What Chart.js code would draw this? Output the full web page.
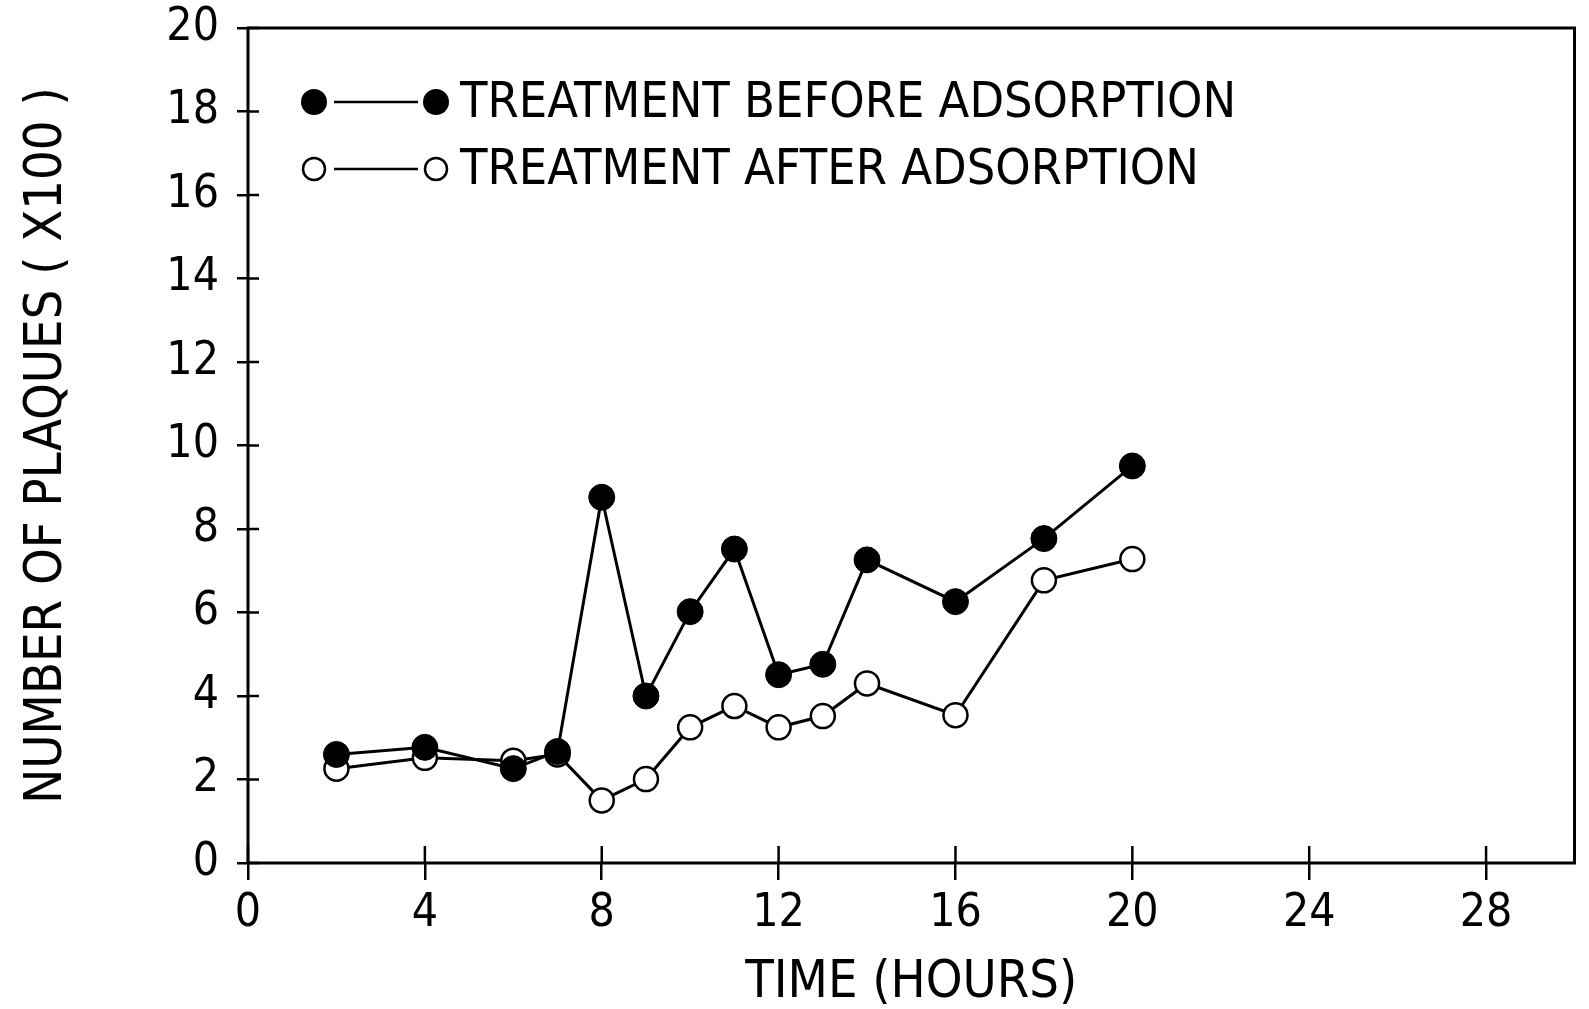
<!DOCTYPE html>
<html>
<head>
<meta charset="utf-8">
<script src="https://cdn.jsdelivr.net/npm/chart.js@4"></script>
<style>
  html, body { margin: 0; padding: 0; background: #fff; }
  #wrap { width: 1589px; height: 1009px; }
</style>
</head>
<body>
<div id="wrap"><canvas id="plaqueChart" width="1589" height="1009"></canvas></div>
<script>
// ---- data ----
const hoursBefore = [2, 4, 6, 7, 8, 9, 10, 11, 12, 13, 14, 16, 18, 20];
const plaquesBefore = [2.6, 2.77, 2.26, 2.67, 8.76, 4.0, 6.02, 7.52, 4.51, 4.76, 7.26, 6.26, 7.77, 9.51];

const hoursAfter = [2, 4, 6, 7, 8, 9, 10, 11, 12, 13, 14, 16, 18, 20];
const plaquesAfter = [2.26, 2.52, 2.45, 2.6, 1.5, 2.01, 3.25, 3.76, 3.25, 3.52, 4.3, 3.54, 6.77, 7.28];

const xTicks = [0, 4, 8, 12, 16, 20, 24, 28];
const yTicks = [0, 2, 4, 6, 8, 10, 12, 14, 16, 18, 20];

const labelBefore = "TREATMENT BEFORE ADSORPTION";
const labelAfter = "TREATMENT AFTER ADSORPTION";

const narrow = "'DejaVu Sans Condensed', 'DejaVu Sans', sans-serif";

function toPoints(xs, ys) {
    return xs.map((x, i) => ({ x: x, y: ys[i] }));
}

// frame + inner half of the tick marks + legend
const framePlugin = {
    id: "frame",
    afterDraw(chart) {
        const ctx = chart.ctx;
        const a = chart.chartArea;
        const xs = chart.scales.x;
        const ys = chart.scales.y;

        ctx.save();
        ctx.strokeStyle = "#000";
        ctx.lineWidth = 3;
        ctx.strokeRect(a.left, a.top, a.right - a.left, a.bottom - a.top);

        ctx.lineWidth = 2.5;
        xs.ticks.forEach(t => {
            let px = xs.getPixelForValue(t.value);
            ctx.beginPath();
            ctx.moveTo(px, a.bottom);
            ctx.lineTo(px, a.bottom - 17);
            ctx.stroke();
        });
        ys.ticks.forEach(t => {
            let py = ys.getPixelForValue(t.value);
            ctx.beginPath();
            ctx.moveTo(a.left, py);
            ctx.lineTo(a.left + 11, py);
            ctx.stroke();
        });

        // legend
        const rows = [
            { y: a.top + 74, filled: true, r: 13, text: chart.data.datasets[0].label },
            { y: a.top + 141, filled: false, r: 11, text: chart.data.datasets[1].label }
        ];
        const x1 = a.left + 66, x2 = a.left + 188, tx = a.left + 212;
        ctx.font = "50px " + narrow;
        ctx.textBaseline = "middle";
        rows.forEach(r => {
            ctx.lineWidth = 2.5;
            ctx.beginPath();
            ctx.moveTo(x1 + 20, r.y);
            ctx.lineTo(x2 - 18, r.y);
            ctx.stroke();
            [x1, x2].forEach(cx => {
                ctx.beginPath();
                ctx.arc(cx, r.y, r.r, 0, Math.PI * 2);
                if (r.filled) {
                    ctx.fillStyle = "#000";
                    ctx.fill();
                } else {
                    ctx.fillStyle = "#fff";
                    ctx.fill();
                    ctx.stroke();
                }
            });
            ctx.fillStyle = "#000";
            ctx.fillText(r.text, tx, r.y + 2);
        });
        ctx.restore();
    }
};

const ctx = document.getElementById("plaqueChart").getContext("2d");

new Chart(ctx, {
    type: "line",
    data: {
        datasets: [
            {
                label: labelBefore,
                data: toPoints(hoursBefore, plaquesBefore),
                borderColor: "#000",
                borderWidth: 3,
                pointRadius: 13,
                pointBackgroundColor: "#000",
                pointBorderColor: "#000",
                pointBorderWidth: 1,
                tension: 0
            },
            {
                label: labelAfter,
                data: toPoints(hoursAfter, plaquesAfter),
                borderColor: "#000",
                borderWidth: 3,
                pointRadius: 12,
                pointBackgroundColor: "#fff",
                pointBorderColor: "#000",
                pointBorderWidth: 2.5,
                tension: 0
            }
        ]
    },
    options: {
        responsive: false,
        animation: false,
        layout: { padding: { top: 28, right: 0, left: 0, bottom: 0 } },
        plugins: {
            legend: { display: false },
            tooltip: { enabled: false }
        },
        scales: {
            x: {
                type: "linear",
                min: 0,
                max: 30,
                afterBuildTicks: s => { s.ticks = xTicks.map(v => ({ value: v })); },
                afterFit: s => { s.height = 146; s.paddingLeft = 0; s.paddingRight = 0; },
                grid: {
                    drawOnChartArea: false,
                    drawTicks: true,
                    tickLength: 17,
                    color: "#000",
                    lineWidth: 2.5
                },
                border: { display: false },
                ticks: {
                    color: "#000",
                    padding: 6,
                    maxRotation: 0,
                    font: { family: narrow, size: 46 }
                },
                title: {
                    display: true,
                    text: "TIME (HOURS)",
                    color: "#000",
                    padding: { top: 0, bottom: 0 },
                    font: { family: narrow, size: 52, lineHeight: 1.0 }
                }
            },
            y: {
                min: 0,
                max: 20,
                afterBuildTicks: s => { s.ticks = yTicks.map(v => ({ value: v })); },
                afterFit: s => { s.width = 248; s.paddingTop = 0; s.paddingBottom = 0; },
                grid: {
                    drawOnChartArea: false,
                    drawTicks: true,
                    tickLength: 11,
                    color: "#000",
                    lineWidth: 2.5
                },
                border: { display: false },
                ticks: {
                    color: "#000",
                    padding: 18,
                    font: { family: narrow, size: 46 }
                },
                title: {
                    display: true,
                    text: "NUMBER OF PLAQUES ( X100 )",
                    color: "#000",
                    padding: { top: 16, bottom: 0 },
                    font: { family: narrow, size: 52 }
                }
            }
        }
    },
    plugins: [framePlugin]
});
</script>
</body>
</html>
